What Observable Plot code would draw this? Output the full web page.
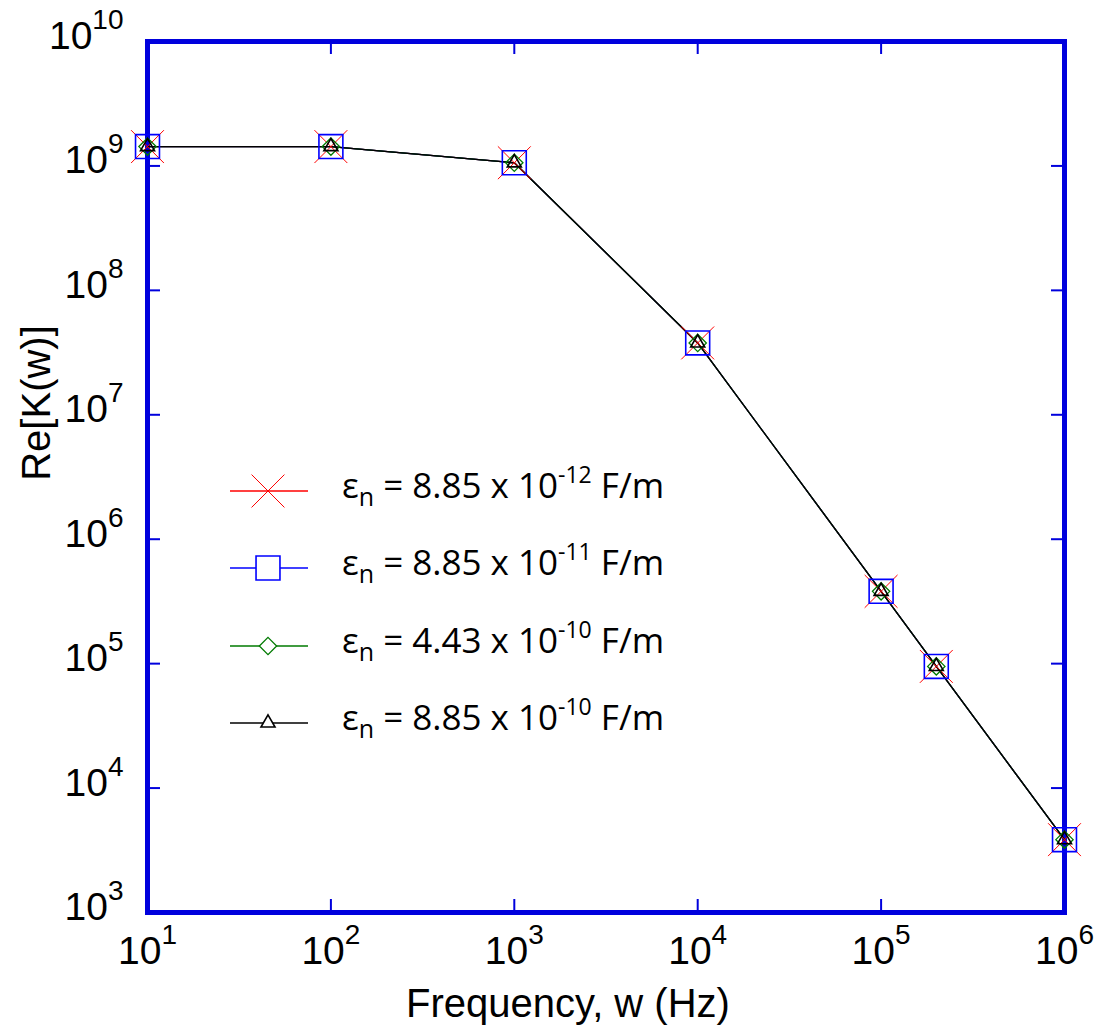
<!DOCTYPE html>
<html>
<head>
<meta charset="utf-8">
<script src="https://cdn.jsdelivr.net/npm/d3@7"></script>
<script src="https://cdn.jsdelivr.net/npm/@observablehq/plot@0.6"></script>
<style>
  html, body { margin: 0; padding: 0; background: #fff; }
  #chart { position: relative; width: 1103px; height: 1030px; }
  #legend { position: absolute; left: 200px; top: 450px; }
</style>
</head>
<body>
<div id="chart"></div>
<script>
// Frequency sweep (Hz)
const frequency = [10, 100, 1000, 10000, 100000, 200000, 1000000];

// Re[K(w)] for each permittivity value
const reK_885e12 = [1.43e9, 1.43e9, 1.06e9, 3.78e7, 3.81e5, 9.5e4, 3.85e3];
const reK_885e11 = [1.43e9, 1.43e9, 1.06e9, 3.78e7, 3.81e5, 9.5e4, 3.85e3];
const reK_443e10 = [1.43e9, 1.43e9, 1.06e9, 3.78e7, 3.81e5, 9.5e4, 3.85e3];
const reK_885e10 = [1.43e9, 1.43e9, 1.06e9, 3.78e7, 3.81e5, 9.5e4, 3.85e3];

// Legend text pieces: εn = mantissa x 10^exponent F/m
const seriesMantissa = ["8.85", "8.85", "4.43", "8.85"];
const seriesExponent = ["-12", "-11", "-10", "-10"];

// Axis ticks and titles
const xTicks = [1e1, 1e2, 1e3, 1e4, 1e5, 1e6];
const yTicks = [1e3, 1e4, 1e5, 1e6, 1e7, 1e8, 1e9, 1e10];
const xTitle = "Frequency, w (Hz)";
const yTitle = "Re[K(w)]";

// Drawing styles for the four series
const seriesValues = [reK_885e12, reK_885e11, reK_443e10, reK_885e10];
const seriesColor = ["#ff0000", "#0000ff", "#007a00", "#000000"];
const seriesSymbol = ["times", "square", "diamond2", "triangle2"];
const seriesRadius = [15, 13.5, 7.8, 6.7];
const seriesMarkerWidth = [1, 1.6, 1.3, 1.6];

const W = 1103, H = 1030;
const mL = 147, mR = 39, mT = 41, mB = 118;
const innerW = W - mL - mR, innerH = H - mT - mB;
const frameBlue = "#0000dd";
const tickLen = 13;

const tables = seriesValues.map((vals, s) =>
  frequency.map((f, i) => ({ f, v: vals[i], s }))
);

const marks = [
  Plot.frame({ stroke: frameBlue, strokeWidth: 5 }),
  // inward major ticks on all four sides
  Plot.tickX(xTicks, { x: d => d, insetTop: innerH - tickLen, stroke: frameBlue, strokeWidth: 2 }),
  Plot.tickX(xTicks, { x: d => d, insetBottom: innerH - tickLen, stroke: frameBlue, strokeWidth: 2 }),
  Plot.tickY(yTicks, { y: d => d, insetRight: innerW - tickLen, stroke: frameBlue, strokeWidth: 2 }),
  Plot.tickY(yTicks, { y: d => d, insetLeft: innerW - tickLen, stroke: frameBlue, strokeWidth: 2 }),
  Plot.axisX({ ticks: xTicks, tickSize: 0, tickPadding: 24, label: null,
    tickFormat: d => String(Math.round(Math.log10(d))) }),
  Plot.axisY({ ticks: yTicks, tickSize: 0, tickPadding: 24, dy: -5, label: null,
    tickFormat: d => String(Math.round(Math.log10(d))) }),
  Plot.text([xTitle], { frameAnchor: "bottom", lineAnchor: "bottom", dx: -38, dy: 104,
    fontSize: 40, text: d => d }),
  Plot.text([yTitle], { frameAnchor: "left", textAnchor: "middle", lineAnchor: "bottom", rotate: -90,
    dx: -98, dy: -74, fontSize: 40, text: d => d })
];

tables.forEach((t, s) => {
  marks.push(Plot.line(t, { x: "f", y: "v", stroke: seriesColor[s], strokeWidth: 1.3 }));
});
tables.forEach((t, s) => {
  marks.push(Plot.dot(t, { x: "f", y: "v", symbol: seriesSymbol[s], r: seriesRadius[s],
    stroke: seriesColor[s], strokeWidth: seriesMarkerWidth[s], fill: "none" }));
});

const svg = Plot.plot({
  width: W, height: H,
  marginLeft: mL, marginRight: mR, marginTop: mT, marginBottom: mB,
  x: { type: "log", domain: [1e1, 1e6] },
  y: { type: "log", domain: [1e3, 1e10] },
  style: { fontFamily: "'Liberation Sans', Arial, sans-serif", fontSize: "39px", color: "#000", background: "#fff" },
  marks
});

// tick labels as 10 with a raised exponent
d3.select(svg)
  .selectAll('g[aria-label="x-axis tick label"] text, g[aria-label="y-axis tick label"] text')
  .each(function () {
    const exp = this.textContent;
    const t = d3.select(this);
    t.text(null);
    t.append("tspan").text("10");
    t.append("tspan").attr("font-size", 28).attr("dy", -20).text(exp);
  });

const chart = document.getElementById("chart");
chart.appendChild(svg);

// Legend: line sample with marker, then εn = m x 10^e F/m
const legendW = 500, legendH = 300;
const rowY = [41, 118, 196, 273];
const shapes = { times: d3.symbolTimes, square: d3.symbolSquare, diamond2: d3.symbolDiamond2, triangle2: d3.symbolTriangle2 };
const lg = d3.select(chart).append("svg")
  .attr("id", "legend")
  .attr("width", legendW).attr("height", legendH)
  .attr("font-family", "'Open Sans', 'Noto Sans', sans-serif");

seriesMantissa.forEach((m, s) => {
  const g = lg.append("g").attr("transform", `translate(0,${rowY[s]})`);
  g.append("line").attr("x1", 30).attr("x2", 108).attr("y1", 0).attr("y2", 0)
    .attr("stroke", seriesColor[s]).attr("stroke-width", 1.5);
  g.append("path")
    .attr("transform", "translate(68,0)")
    .attr("d", d3.symbol(shapes[seriesSymbol[s]], Math.PI * seriesRadius[s] ** 2)())
    .attr("fill", seriesSymbol[s] === "times" ? "none" : "#fff")
    .attr("stroke", seriesColor[s])
    .attr("stroke-width", seriesMarkerWidth[s]);
  const txt = g.append("text").attr("x", 142).attr("y", 7).attr("font-size", 35).attr("fill", "#000");
  txt.append("tspan").text("ε");
  txt.append("tspan").attr("font-size", 25).attr("dy", 8).text("n");
  txt.append("tspan").attr("dy", -8).text(` = ${m} x 10`);
  txt.append("tspan").attr("font-size", 23).attr("dy", -15).text(seriesExponent[s]);
  txt.append("tspan").attr("dy", 15).text(" F/m");
});
</script>
</body>
</html>
